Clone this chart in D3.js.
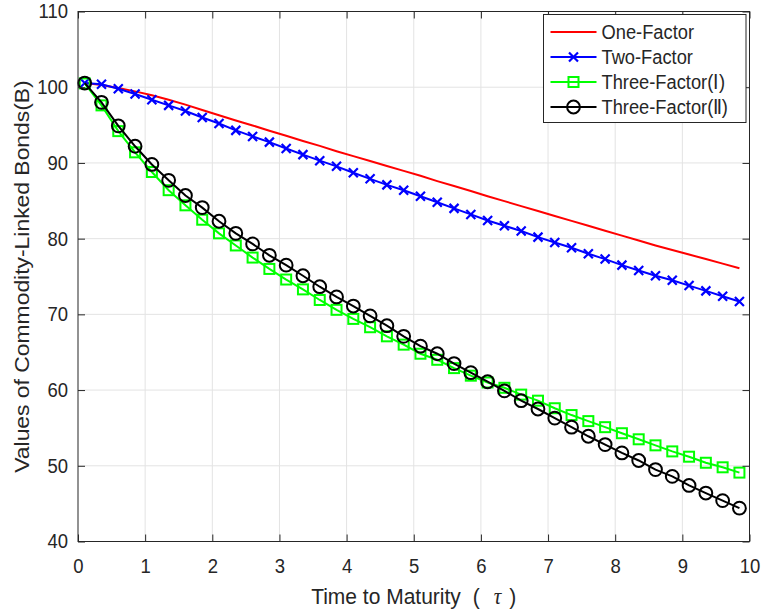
<!DOCTYPE html>
<html>
<head>
<meta charset="utf-8">
<script src="https://cdn.jsdelivr.net/npm/d3@7"></script>
<style>
body { margin: 0; background: #fff; }
svg text { font-family: "Liberation Sans", Arial, sans-serif; fill: #262626; }
.grid line { stroke: #e3e3e3; stroke-width: 1; }
.frame { fill: none; stroke: #262626; stroke-width: 1; }
</style>
</head>
<body>
<div id="chart"></div>
<script>
// time to maturity (tau)
var tau = [0.1, 0.35, 0.6, 0.85, 1.1, 1.35, 1.6, 1.85, 2.1, 2.35,
    2.6, 2.85, 3.1, 3.35, 3.6, 3.85, 4.1, 4.35, 4.6, 4.85,
    5.1, 5.35, 5.6, 5.85, 6.1, 6.35, 6.6, 6.85, 7.1, 7.35,
    7.6, 7.85, 8.1, 8.35, 8.6, 8.85, 9.1, 9.35, 9.6, 9.85];

var oneFactor = [100.55, 100.3, 99.9, 99.45, 98.95, 98.35, 97.7, 97.0, 96.3, 95.6,
    94.95, 94.25, 93.6, 92.9, 92.25, 91.55, 90.9, 90.25, 89.6, 88.95,
    88.3, 87.6, 86.95, 86.3, 85.6, 84.95, 84.3, 83.65, 83.0, 82.35,
    81.7, 81.05, 80.4, 79.75, 79.1, 78.5, 77.9, 77.3, 76.7, 76.1];

var twoFactor = [100.55, 100.4, 99.8, 99.1, 98.35, 97.6, 96.85, 96.0, 95.2, 94.3,
    93.5, 92.75, 91.9, 91.1, 90.3, 89.55, 88.7, 87.9, 87.1, 86.4,
    85.6, 84.8, 84.0, 83.2, 82.4, 81.7, 81.0, 80.2, 79.5, 78.8,
    78.0, 77.3, 76.5, 75.8, 75.1, 74.5, 73.8, 73.1, 72.4, 71.7];

var threeFactorI = [100.5, 97.6, 94.2, 91.4, 88.8, 86.4, 84.4, 82.5, 80.7, 79.1,
    77.5, 76.0, 74.6, 73.3, 71.9, 70.6, 69.4, 68.3, 67.1, 66.0,
    64.8, 64.0, 62.9, 61.9, 61.0, 60.3, 59.4, 58.6, 57.6, 56.7,
    55.9, 55.1, 54.3, 53.5, 52.7, 51.9, 51.2, 50.4, 49.8, 49.1];

var threeFactorII = [100.55, 98.0, 94.9, 92.2, 89.8, 87.7, 85.7, 84.1, 82.3, 80.7,
    79.3, 77.8, 76.5, 75.1, 73.65, 72.3, 71.1, 69.8, 68.5, 67.1,
    65.8, 64.8, 63.5, 62.3, 61.1, 59.9, 58.6, 57.5, 56.3, 55.1,
    53.9, 52.8, 51.7, 50.7, 49.5, 48.6, 47.4, 46.4, 45.4, 44.4];

var xTicks = [0, 1, 2, 3, 4, 5, 6, 7, 8, 9, 10];
var yTicks = [40, 50, 60, 70, 80, 90, 100, 110];

var seriesNames = ["One-Factor", "Two-Factor", "Three-Factor(\u2160)", "Three-Factor(\u2161)"];

var margin = {left: 78, top: 11.5, right: 12.5, bottom: 71.5};
var width = 762 - margin.left - margin.right;
var height = 613 - margin.top - margin.bottom;
var stretchY = 1.09;   // the figure text is a bit taller than wide

var x = d3.scaleLinear().domain([0, 10]).range([0, width]);
var y = d3.scaleLinear().domain([40, 110]).range([height, 0]);

var svg = d3.select("#chart").append("svg")
    .attr("width", 762)
    .attr("height", 613)
    .append("g")
    .attr("transform", "translate(" + margin.left + "," + margin.top + ")");

// move x/y into a transform so the glyphs can be stretched vertically
function stretch(sel) {
    sel.each(function() {
        var t = d3.select(this);
        var tx = +t.attr("x") || 0, ty = +t.attr("y") || 0;
        t.attr("x", null).attr("y", null)
            .attr("transform", "translate(" + tx + "," + ty + ") scale(1," + stretchY + ")");
    });
}

// grid
var grid = svg.append("g").attr("class", "grid");
grid.selectAll(".gx").data(xTicks.slice(1, -1)).enter().append("line")
    .attr("x1", function(d) { return x(d); }).attr("x2", function(d) { return x(d); })
    .attr("y1", 0).attr("y2", height);
grid.selectAll(".gy").data(yTicks.slice(1, -1)).enter().append("line")
    .attr("y1", function(d) { return y(d); }).attr("y2", function(d) { return y(d); })
    .attr("x1", 0).attr("x2", width);

// series
var series = [
    {name: seriesNames[0], values: oneFactor, color: "#ff0000", marker: "none"},
    {name: seriesNames[1], values: twoFactor, color: "#0000ff", marker: "x"},
    {name: seriesNames[2], values: threeFactorI, color: "#00ff00", marker: "square"},
    {name: seriesNames[3], values: threeFactorII, color: "#000000", marker: "circle"}
];

var line = d3.line()
    .x(function(d) { return x(d[0]); })
    .y(function(d) { return y(d[1]); });

function drawMarker(g, type, color) {
    if (type == "x") {
        g.append("path").attr("d", "M-4.5,-4.5L4.5,4.5M-4.5,4.5L4.5,-4.5")
            .attr("stroke", color).attr("stroke-width", 2.2).attr("fill", "none");
    } else if (type == "square") {
        g.append("rect").attr("x", -5).attr("y", -5).attr("width", 10).attr("height", 10)
            .attr("stroke", color).attr("stroke-width", 2).attr("fill", "none");
    } else if (type == "circle") {
        g.append("circle").attr("r", 6.4)
            .attr("stroke", color).attr("stroke-width", 2).attr("fill", "none");
    }
}

series.forEach(function(s) {
    var pts = tau.map(function(t, i) { return [t, s.values[i]]; });
    var g = svg.append("g");
    g.append("path").datum(pts)
        .attr("d", line)
        .attr("fill", "none")
        .attr("stroke", s.color)
        .attr("stroke-width", 2);
    if (s.marker != "none") {
        g.selectAll(".m").data(pts).enter().append("g")
            .attr("transform", function(d) { return "translate(" + x(d[0]) + "," + y(d[1]) + ")"; })
            .each(function() { drawMarker(d3.select(this), s.marker, s.color); });
    }
});

// axes with inward ticks on all four sides
var tickLen = 7;
svg.append("g").attr("transform", "translate(0," + height + ")")
    .call(d3.axisBottom(x).tickValues(xTicks).tickSize(-tickLen).tickPadding(17))
    .attr("class", "x-axis");
svg.append("g")
    .call(d3.axisTop(x).tickValues(xTicks).tickSize(-tickLen).tickFormat(""));
svg.append("g")
    .call(d3.axisLeft(y).tickValues(yTicks).tickSize(-tickLen).tickPadding(10))
    .attr("class", "y-axis");
svg.append("g").attr("transform", "translate(" + width + ",0)")
    .call(d3.axisRight(y).tickValues(yTicks).tickSize(-tickLen).tickFormat(""));

svg.selectAll(".domain").remove();
svg.selectAll(".tick line").attr("stroke", "#262626");
svg.selectAll(".tick text").attr("font-size", 18.5)
    .style("font-family", '"Liberation Sans", Arial, sans-serif').attr("fill", "#262626")
    .call(stretch);

svg.append("rect").attr("class", "frame")
    .attr("x", 0).attr("y", 0).attr("width", width).attr("height", height);

// axis titles
var xl = svg.append("text")
    .attr("x", width / 2).attr("y", height + 62)
    .attr("text-anchor", "middle").attr("font-size", 21);
xl.append("tspan").text("Time to Maturity");
xl.append("tspan").attr("dx", 12).text("(");
xl.append("tspan").attr("dx", 14).text("\u03c4").attr("font-style", "italic")
    .style("font-family", '"Liberation Serif", "DejaVu Serif", serif');
xl.append("tspan").attr("dx", 8).text(")");
xl.call(stretch);

svg.append("text")
    .attr("transform", "translate(" + (-49) + "," + (height / 2) + ") rotate(-90) scale(" + stretchY + ",1)")
    .attr("text-anchor", "middle").attr("font-size", 21)
    .text("Values of Commodity-Linked Bonds(B)");

// legend
var lg = svg.append("g").attr("transform", "translate(" + (543.5 - margin.left) + "," + (14.5 - margin.top) + ")");
lg.append("rect").attr("width", 202.5).attr("height", 108)
    .attr("fill", "#fff").attr("stroke", "#262626").attr("stroke-width", 1);
series.forEach(function(s, i) {
    var row = lg.append("g").attr("transform", "translate(0," + (17.5 + i * 25) + ")");
    row.append("line").attr("x1", 7).attr("x2", 53)
        .attr("stroke", s.color).attr("stroke-width", 2);
    var m = row.append("g").attr("transform", "translate(30,0)");
    drawMarker(m, s.marker, s.color);
    row.append("text").attr("x", 58).attr("y", 7).attr("font-size", 18.3).text(s.name).call(stretch);
});
</script>
</body>
</html>
